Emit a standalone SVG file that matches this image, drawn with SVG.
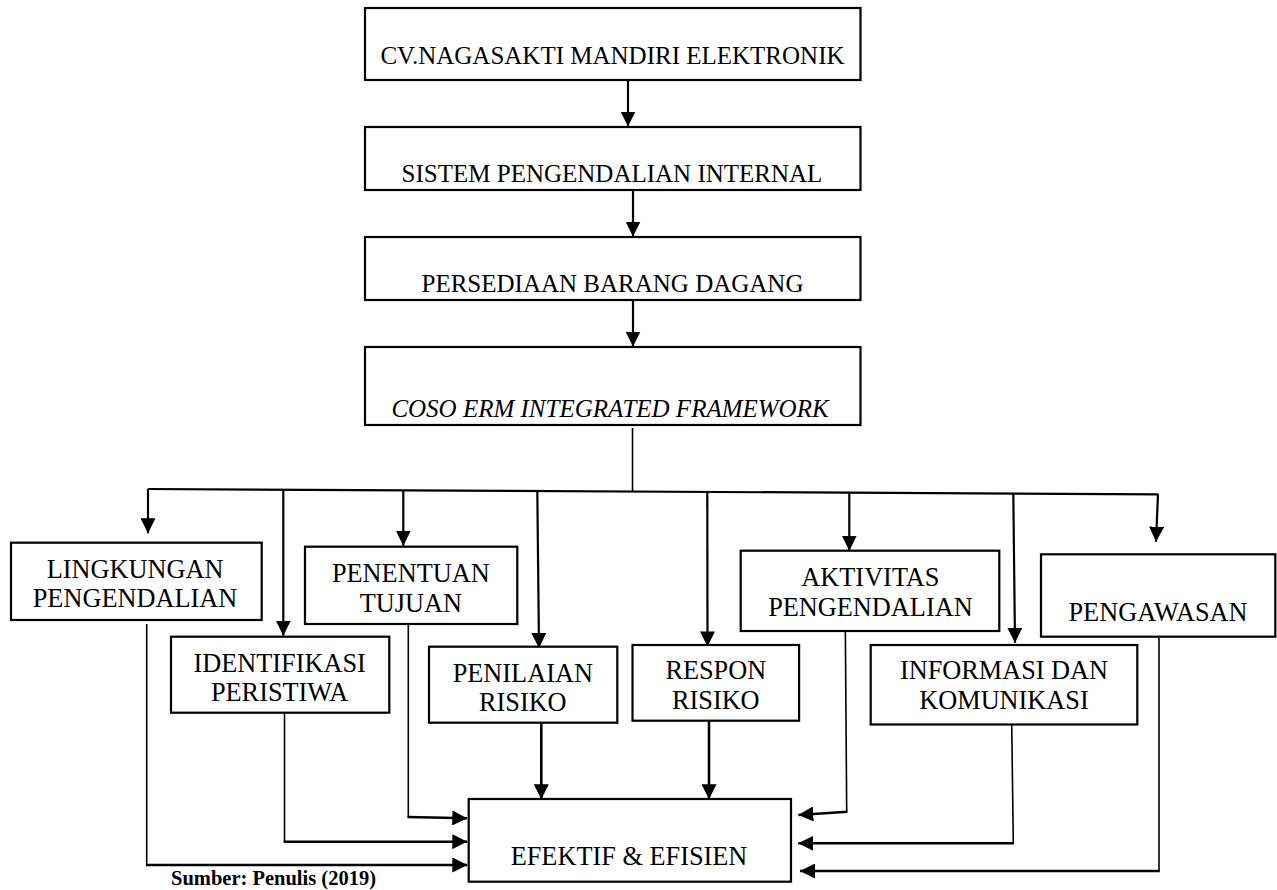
<svg xmlns="http://www.w3.org/2000/svg" width="1277" height="890" viewBox="0 0 1277 890">
<style>
.box{fill:#fff;stroke:#000;stroke-width:2.2}
.t{font-family:"Liberation Serif","Times New Roman",serif;fill:#000;text-anchor:middle}
.top{font-size:25px}
.low{font-size:26.3px}
.it{font-style:italic}
.src{font-family:"Liberation Serif","Times New Roman",serif;font-weight:bold;font-size:20.5px;fill:#000}
.c{fill:none;stroke:#000;stroke-width:2.2}
.cn{fill:none;stroke:#000;stroke-width:1.6}
.ch{fill:none;stroke:#000;stroke-width:2.6}
</style>
<defs>
<marker id="ah" markerUnits="userSpaceOnUse" viewBox="0 0 15 15" markerWidth="15" markerHeight="15" refX="15" refY="7.5" orient="auto">
<path d="M0,0 L15,7.5 L0,15 z" fill="#000"/>
</marker>
</defs>
<rect width="1277" height="890" fill="#fff"/>

<g id="connectors">
<line class="c" x1="628" y1="80" x2="628" y2="126.5" marker-end="url(#ah)"/>
<line class="c" x1="633" y1="190" x2="633" y2="236.5" marker-end="url(#ah)"/>
<line class="c" x1="633" y1="300" x2="633" y2="346.5" marker-end="url(#ah)"/>
<line class="cn" x1="632.5" y1="428" x2="632.5" y2="491.5"/>
<path class="c" d="M147.7,489 L1158.3,494.3"/>
<line class="c" x1="148" y1="489" x2="148" y2="533.3" marker-end="url(#ah)"/>
<line class="c" x1="283.3" y1="490" x2="283.3" y2="635.7" marker-end="url(#ah)"/>
<line class="c" x1="403.3" y1="490.5" x2="403.3" y2="545.7" marker-end="url(#ah)"/>
<line class="c" x1="537.3" y1="491" x2="539" y2="648" marker-end="url(#ah)"/>
<line class="c" x1="707.3" y1="491.8" x2="707.5" y2="646.5" marker-end="url(#ah)"/>
<line class="c" x1="849.3" y1="492.5" x2="849.3" y2="550.7" marker-end="url(#ah)"/>
<line class="c" x1="1013.3" y1="493.4" x2="1015" y2="642.7" marker-end="url(#ah)"/>
<line class="c" x1="1158" y1="494.3" x2="1156" y2="541.7" marker-end="url(#ah)"/>

<line class="ch" x1="541.3" y1="722.7" x2="541.3" y2="799.3" marker-end="url(#ah)"/>
<line class="ch" x1="709" y1="720.7" x2="709" y2="799.3" marker-end="url(#ah)"/>

<path class="cn" d="M408.3,621 V817"/>
<path class="ch" d="M407.5,817 L467.3,818.3" marker-end="url(#ah)"/>
<path class="cn" d="M284.5,709 V841.7"/>
<path class="ch" d="M283.7,841.7 H467.3" marker-end="url(#ah)"/>
<path class="cn" d="M146.7,624 V865"/>
<path class="ch" d="M145.9,865 H467.3" marker-end="url(#ah)"/>

<path class="cn" d="M845.3,624.3 L846.7,811.7"/>
<path class="ch" d="M847.5,811.7 L798.3,815" marker-end="url(#ah)"/>
<path class="cn" d="M1011.7,722 L1013.3,843.3"/>
<path class="ch" d="M1014.1,843.3 H798.3" marker-end="url(#ah)"/>
<path class="cn" d="M1159,638 V871"/>
<path class="ch" d="M1159.8,871 H800" marker-end="url(#ah)"/>
</g>

<g id="n-cv">
<rect class="box" x="365" y="8" width="495.5" height="72"/>
<text class="t top" x="612.5" y="64">CV.NAGASAKTI MANDIRI ELEKTRONIK</text>
</g>
<g id="n-spi">
<rect class="box" x="365" y="127" width="495.5" height="63"/>
<text class="t top" x="612" y="182">SISTEM PENGENDALIAN INTERNAL</text>
</g>
<g id="n-pbd">
<rect class="box" x="365" y="237" width="495.5" height="63"/>
<text class="t top" x="612.5" y="292">PERSEDIAAN BARANG DAGANG</text>
</g>
<g id="n-coso">
<rect class="box" x="365" y="347" width="495.5" height="78"/>
<text class="t top it" x="610" y="417">COSO ERM INTEGRATED FRAMEWORK</text>
</g>

<g id="n-lingkungan">
<rect class="box" x="11" y="542.7" width="250.7" height="77.3"/>
<text class="t low" x="135" y="578.3">LINGKUNGAN</text>
<text class="t low" x="135" y="607.3">PENGENDALIAN</text>
</g>
<g id="n-identifikasi">
<rect class="box" x="171" y="636.7" width="218.3" height="76"/>
<text class="t low" x="279.6" y="671.7">IDENTIFIKASI</text>
<text class="t low" x="279.6" y="701">PERISTIWA</text>
</g>
<g id="n-penentuan">
<rect class="box" x="305" y="546.7" width="212.3" height="77.3"/>
<text class="t low" x="410.8" y="581.7">PENENTUAN</text>
<text class="t low" x="410.8" y="612.3">TUJUAN</text>
</g>
<g id="n-penilaian">
<rect class="box" x="429" y="646.7" width="188.3" height="76"/>
<text class="t low" x="522.8" y="681.7">PENILAIAN</text>
<text class="t low" x="522.8" y="710.7">RISIKO</text>
</g>
<g id="n-respon">
<rect class="box" x="632.5" y="645" width="166.6" height="75.7"/>
<text class="t low" x="715.8" y="679.3">RESPON</text>
<text class="t low" x="715.8" y="708.7">RISIKO</text>
</g>
<g id="n-aktivitas">
<rect class="box" x="740.7" y="550.7" width="258.6" height="80.3"/>
<text class="t low" x="870.4" y="586">AKTIVITAS</text>
<text class="t low" x="870.4" y="615.5">PENGENDALIAN</text>
</g>
<g id="n-informasi">
<rect class="box" x="870.7" y="645" width="266.6" height="79.5"/>
<text class="t low" x="1004" y="679.3">INFORMASI DAN</text>
<text class="t low" x="1004" y="709">KOMUNIKASI</text>
</g>
<g id="n-pengawasan">
<rect class="box" x="1041" y="554.3" width="234.3" height="82.4"/>
<text class="t low" x="1158" y="620.5">PENGAWASAN</text>
</g>
<g id="n-efektif">
<rect class="box" x="468.7" y="799" width="322.3" height="82.7"/>
<text class="t low" x="629" y="865">EFEKTIF &amp; EFISIEN</text>
</g>

<text class="src" x="171" y="885">Sumber: Penulis (2019)</text>
</svg>
